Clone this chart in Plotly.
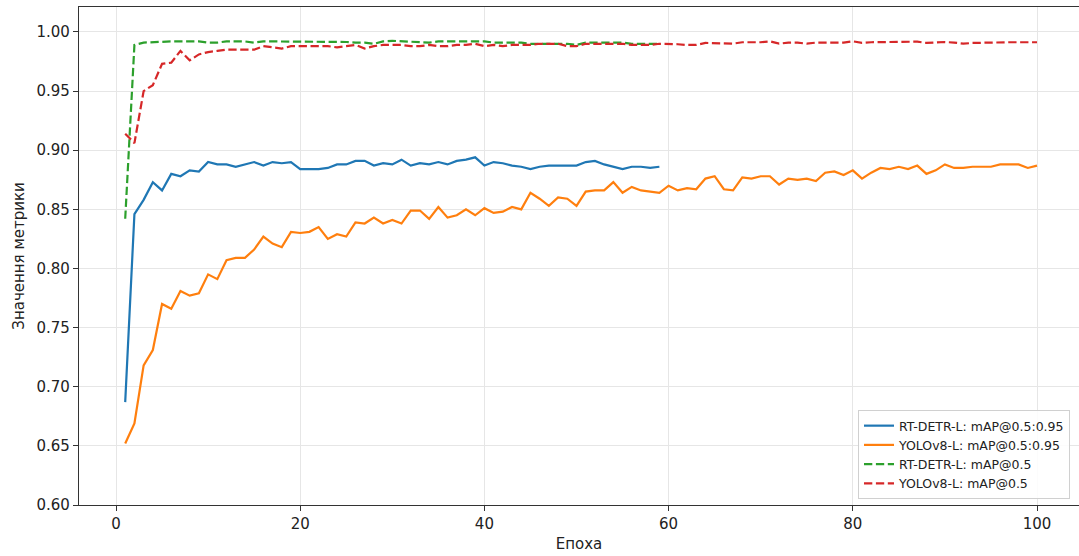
import plotly.graph_objects as go

epochs_rt = list(range(1, 60))
epochs_yolo = list(range(1, 101))

rt_map5095 = [0.687, 0.846, 0.858, 0.873, 0.866, 0.880, 0.878, 0.883, 0.882, 0.890,
              0.888, 0.888, 0.886, 0.888, 0.890, 0.887, 0.890, 0.889, 0.890, 0.884,
              0.884, 0.884, 0.885, 0.888, 0.888, 0.891, 0.891, 0.887, 0.889, 0.888,
              0.892, 0.887, 0.889, 0.888, 0.890, 0.888, 0.891, 0.892, 0.894, 0.887,
              0.890, 0.889, 0.887, 0.886, 0.884, 0.886, 0.887, 0.887, 0.887, 0.887,
              0.890, 0.891, 0.888, 0.886, 0.884, 0.886, 0.886, 0.885, 0.886]

yolo_map5095 = [0.652, 0.669, 0.718, 0.731, 0.770, 0.766, 0.781, 0.777, 0.779, 0.795,
                0.791, 0.807, 0.809, 0.809, 0.816, 0.827, 0.821, 0.818, 0.831, 0.830,
                0.831, 0.835, 0.825, 0.829, 0.827, 0.839, 0.838, 0.843, 0.838, 0.841,
                0.838, 0.849, 0.849, 0.842, 0.852, 0.843, 0.845, 0.850, 0.845, 0.851,
                0.847, 0.848, 0.852, 0.850, 0.864, 0.859, 0.853, 0.860, 0.859, 0.853,
                0.865, 0.866, 0.866, 0.873, 0.864, 0.869, 0.866, 0.865, 0.864, 0.870,
                0.866, 0.868, 0.867, 0.876, 0.878, 0.867, 0.866, 0.877, 0.876, 0.878,
                0.878, 0.871, 0.876, 0.875, 0.876, 0.874, 0.881, 0.882, 0.879, 0.883,
                0.876, 0.881, 0.885, 0.884, 0.886, 0.884, 0.887, 0.880, 0.883, 0.888,
                0.885, 0.885, 0.886, 0.886, 0.886, 0.888, 0.888, 0.888, 0.885, 0.887]

rt_map50 = [0.842, 0.989, 0.991, 0.9915, 0.992, 0.992, 0.992, 0.992, 0.992, 0.991,
            0.991, 0.992, 0.992, 0.992, 0.991, 0.992, 0.992, 0.992, 0.992, 0.992,
            0.992, 0.992, 0.9915, 0.9915, 0.9915, 0.991, 0.991, 0.990, 0.992, 0.9925,
            0.992, 0.992, 0.991, 0.991, 0.992, 0.992, 0.992, 0.992, 0.9925, 0.992,
            0.991, 0.991, 0.991, 0.991, 0.990, 0.990, 0.990, 0.990, 0.990, 0.989,
            0.991, 0.991, 0.991, 0.991, 0.991, 0.990, 0.990, 0.990, 0.990]

yolo_map50 = [0.914, 0.906, 0.950, 0.955, 0.973, 0.974, 0.984, 0.976, 0.981, 0.983,
              0.984, 0.985, 0.985, 0.985, 0.985, 0.988, 0.987, 0.986, 0.988, 0.988,
              0.988, 0.988, 0.988, 0.987, 0.988, 0.989, 0.986, 0.988, 0.989, 0.989,
              0.989, 0.988, 0.988, 0.989, 0.988, 0.988, 0.989, 0.989, 0.990, 0.988,
              0.989, 0.988, 0.989, 0.989, 0.989, 0.990, 0.990, 0.990, 0.988, 0.988,
              0.990, 0.990, 0.990, 0.990, 0.990, 0.989, 0.989, 0.989, 0.990, 0.990,
              0.9896, 0.989, 0.989, 0.9907, 0.9907, 0.9904, 0.9901, 0.9913, 0.9913, 0.9913,
              0.9921, 0.9901, 0.991, 0.991, 0.9901, 0.991, 0.991, 0.9907, 0.991, 0.9921,
              0.9907, 0.9913, 0.9915, 0.9918, 0.9918, 0.9918, 0.9918, 0.9907, 0.991, 0.9915,
              0.991, 0.9901, 0.9907, 0.991, 0.991, 0.9913, 0.9913, 0.9913, 0.9913, 0.9913]

names = ["RT-DETR-L: mAP@0.5:0.95", "YOLOv8-L: mAP@0.5:0.95",
         "RT-DETR-L: mAP@0.5", "YOLOv8-L: mAP@0.5"]
colors = ["#1f77b4", "#ff7f0e", "#2ca02c", "#d62728"]

x_ticks = [0, 20, 40, 60, 80, 100]
y_ticks = [0.60, 0.65, 0.70, 0.75, 0.80, 0.85, 0.90, 0.95, 1.00]

fig = go.Figure()
series = [(epochs_rt, rt_map5095, "solid"), (epochs_yolo, yolo_map5095, "solid"),
          (epochs_rt, rt_map50, "8.3px,3.6px"), (epochs_yolo, yolo_map50, "8.3px,3.6px")]
for (xs, ys, dash), name, c in zip(series, names, colors):
    fig.add_trace(go.Scatter(x=xs, y=ys, mode="lines", name=name,
                             line=dict(color=c, width=2.2, dash=dash)))

font_family = "DejaVu Sans"
fig.update_layout(
    width=1079, height=556,
    margin=dict(l=79, r=0, t=7, b=51),
    plot_bgcolor="white", paper_bgcolor="white",
    font=dict(family=font_family, size=15, color="#222"),
    legend=dict(x=0.991, y=0.012, xanchor="right", yanchor="bottom",
                bgcolor="rgba(255,255,255,0.85)", bordercolor="#d0d0d0", borderwidth=1,
                font=dict(size=12.5, color="#222"), tracegroupgap=0, itemwidth=30),
    xaxis=dict(range=[-4.017, 104.56], tickvals=x_ticks, ticktext=[str(v) for v in x_ticks],
               showgrid=True, gridcolor="#e6e6e6", gridwidth=1.2,
               showline=True, linecolor="#333", linewidth=1.2, mirror=True,
               ticks="outside", ticklen=5, tickwidth=1.2, tickcolor="#333",
               zeroline=False,
               title=dict(text="Епоха", standoff=6, font=dict(size=15))),
    yaxis=dict(range=[0.60, 1.0211], tickvals=y_ticks, ticktext=[f"{v:.2f}" for v in y_ticks],
               showgrid=True, gridcolor="#e6e6e6", gridwidth=1.2,
               showline=True, linecolor="#333", linewidth=1.2, mirror=False,
               ticks="outside", ticklen=5, tickwidth=1.2, tickcolor="#333",
               zeroline=False,
               title=dict(text="Значення метрики", standoff=8, font=dict(size=15))),
)

fig.write_html("out.html")
